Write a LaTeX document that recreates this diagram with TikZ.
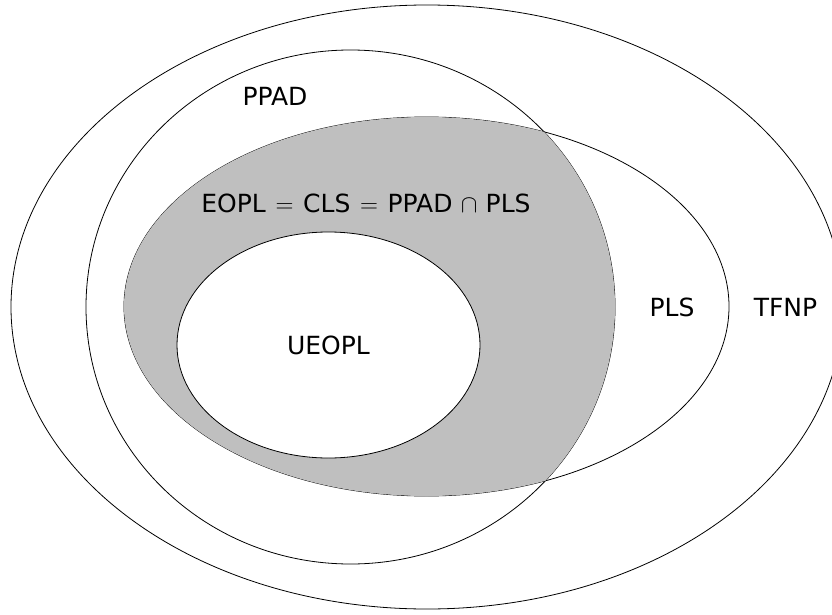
\documentclass[tikz,border=0pt]{standalone}
\usepackage{fontspec}
\setmainfont{DejaVu Sans}
\definecolor{greyfill}{RGB}{191,191,191}
\begin{document}
\begin{tikzpicture}[x=1pt,y=-1pt,
  setline/.style={draw=black,line width=0.8pt},
  lbl/.style={font=\fontsize{25}{30}\selectfont,inner sep=0pt,anchor=center}]
\useasboundingbox (0,0) rectangle (832,615);
% TFNP
\path[setline] (427,307) ellipse [x radius=416, y radius=302];
% PPAD
\path[setline] (350.5,307) ellipse [x radius=264.5, y radius=257];
% PLS
\path[setline] (426.5,306.5) ellipse [x radius=302.5, y radius=189.5];
% intersection PPAD and PLS
\begin{scope}
  \clip (350.5,307) ellipse [x radius=264.5, y radius=257];
  \fill[greyfill] (426.5,306.5) ellipse [x radius=302.5, y radius=189.5];
\end{scope}
% UEOPL
\path[setline,fill=white] (328.5,345) ellipse [x radius=151.5, y radius=113];
% labels
\node[lbl] (ppad) at (275,96) {PPAD};
\node[lbl] (eopl) at (366,203) {$\hbox{EOPL}\mskip2mu=\mskip2mu\hbox{CLS}\mskip2mu=\mskip2mu\hbox{PPAD}\mskip2mu\cap\mskip2mu\hbox{PLS}$};
\node[lbl] (ueopl) at (328.5,345) {UEOPL};
\node[lbl] (pls) at (672,307) {PLS};
\node[lbl] (tfnp) at (785.5,307) {TFNP};
\end{tikzpicture}
\end{document}
